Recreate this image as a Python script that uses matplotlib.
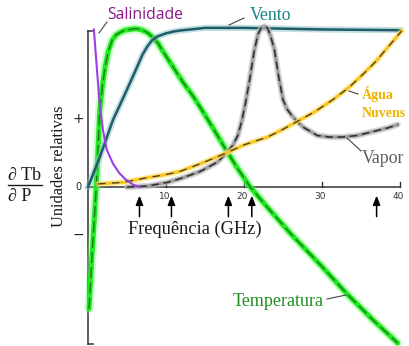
import matplotlib
matplotlib.use("Agg")
import matplotlib.pyplot as plt
from matplotlib.lines import Line2D

# ---------------- data (frequency in GHz, relative units) ----------------
sal_x = [0.75, 1.0, 1.2, 1.45, 1.7, 1.9, 2.4, 3.2, 4.0, 4.8, 5.8, 6.6]
sal_y = [1.01, 0.85, 0.72, 0.56, 0.45, 0.37, 0.24, 0.15, 0.09, 0.05, 0.015, 0.0]

vento_x = [0, 1.5, 3.2, 4.5, 5.5, 6.3, 7.0, 7.6, 8.2, 8.9, 10.0, 11.0, 11.8, 13.5, 15, 20, 30, 40]
vento_y = [0, 0.19, 0.43, 0.57, 0.68, 0.77, 0.85, 0.90, 0.94, 0.965, 0.985, 0.997, 1.003,
           1.012, 1.02, 1.02, 1.01, 1.005]

temp_x = [0.13, 0.5, 0.9, 1.15, 1.5, 1.85, 2.2, 2.6, 3.1, 3.6, 4.1, 4.7, 5.4, 6.1, 6.7,
          7.2, 7.6, 8.3, 9.0, 9.6, 10.9, 12.2, 13.5, 14.4, 16.0, 17.8, 19.3, 20.8,
          23, 26, 30, 33.3, 36.5, 39.7]
temp_y = [-0.78, -0.45, -0.13, 0.09, 0.49, 0.65, 0.77, 0.87, 0.94, 0.975, 0.99, 1.005,
          1.01, 1.015, 1.01, 1.0, 0.99, 0.96, 0.92, 0.87, 0.77, 0.67, 0.58, 0.51, 0.38,
          0.23, 0.11, 0.0, -0.13, -0.30, -0.51, -0.69, -0.85, -1.0]

vapor_x = [5.0, 7.6, 10.2, 12.2, 14.4, 16.6, 17.8, 18.6, 19.2, 19.7, 20.2, 20.8, 21.3,
           21.8, 22.2, 22.6, 23.0, 23.4, 23.9, 24.4, 25.0, 25.5, 26.1, 26.8, 27.7,
           29.4, 31.0, 32.5, 34.5, 36.5, 38.5, 39.7]
vapor_y = [0.0, 0.006, 0.03, 0.06, 0.10, 0.16, 0.22, 0.27, 0.33, 0.42, 0.54, 0.71, 0.87,
           0.98, 1.02, 1.03, 1.02, 0.97, 0.88, 0.72, 0.56, 0.50, 0.46, 0.42, 0.38,
           0.33, 0.32, 0.32, 0.33, 0.355, 0.38, 0.40]

agua_x = [1.3, 4.5, 7.6, 10, 11.8, 14.7, 17.8, 20, 23.0, 25, 26.8, 29, 31.4, 33.5,
          35.4, 37, 38.0, 39.2, 40.2]
agua_y = [0.02, 0.03, 0.06, 0.08, 0.10, 0.155, 0.22, 0.27, 0.32, 0.37, 0.42, 0.48,
          0.56, 0.64, 0.73, 0.81, 0.87, 0.94, 1.0]

freq_arrows = [6.6, 10.7, 18.0, 21.0, 37.0]
x_ticks = [10, 20, 30, 40]
x_tick_labels = ["10", "20", "30", "40"]

# ---------------- figure ----------------
W, H = 409, 346
fig = plt.figure(figsize=(W / 100, H / 100), dpi=100)
fig.patch.set_facecolor("white")

YTOP, YBOT = 1.0, -1.006
ax = fig.add_axes([88 / W, (H - 344) / H, (400 - 88) / W, (344 - 31) / H])
ax.set_xlim(0, 40)
ax.set_ylim(YBOT, YTOP)
ax.axis("off")


def P(x, y):
    return (x / W, 1 - y / H)


SERIF = ["Liberation Serif", "DejaVu Serif"]

# axes lines
ax.plot([0, 0], [YBOT, YTOP], color="#333333", lw=1.1, clip_on=False)
ax.plot([0, 0.7], [YTOP, YTOP], color="#333333", lw=1.1, clip_on=False)
ax.plot([0, 0.7], [YBOT, YBOT], color="#333333", lw=1.1, clip_on=False)
ax.plot([0, 40], [0, 0], color="#333333", lw=1.1, clip_on=False)
for t in x_ticks:
    ax.plot([t, t], [0, 0.035], color="#333333", lw=1.0, clip_on=False)
for t, lab in zip(x_ticks, x_tick_labels):
    ax.text(t - 0.2, -0.058, lab, ha="center", va="center", fontsize=6.5,
            color="#333333", family="DejaVu Sans")

# frequency arrows
for f in freq_arrows:
    ax.annotate("", xy=(f, -0.055), xytext=(f, -0.19),
                arrowprops=dict(arrowstyle="-|>,head_length=0.55,head_width=0.22",
                                color="black", lw=1.1, shrinkA=0, shrinkB=0),
                annotation_clip=False)

# Temperatura (green, glow)
ax.plot(temp_x, temp_y, color="#66ff66", lw=6.5, alpha=0.35, solid_capstyle="round",
        clip_on=False, zorder=2)
ax.plot(temp_x, temp_y, color="#22ea22", lw=3.6, solid_capstyle="round", clip_on=False, zorder=2)
ax.plot(temp_x, temp_y, color="#1b7a1b", lw=1.0, dashes=(8, 3), clip_on=False, zorder=2)

# Vento (teal)
ax.plot(vento_x, vento_y, color="#8cbfc5", lw=4.5, alpha=0.5, clip_on=False, zorder=3)
ax.plot(vento_x, vento_y, color="#1d5d68", lw=1.8, clip_on=False, zorder=3)

# Vapor (gray)
ax.plot(vapor_x, vapor_y, color="#c0c0c0", lw=4.5, alpha=0.6, solid_capstyle="round",
        clip_on=False, zorder=4)
ax.plot(vapor_x, vapor_y, color="#a0a0a0", lw=2.4, clip_on=False, zorder=4)
ax.plot(vapor_x, vapor_y, color="#2d2d2d", lw=1.1, dashes=(5, 3), clip_on=False, zorder=4)

# Agua / Nuvens (yellow)
ax.plot(agua_x, agua_y, color="#ffdc60", lw=4.0, alpha=0.55, clip_on=False, zorder=5)
ax.plot(agua_x, agua_y, color="#f7c424", lw=2.1, clip_on=False, zorder=5)
ax.plot(agua_x, agua_y, color="#3c3c3c", lw=0.9, dashes=(6, 5), clip_on=False, zorder=5)

# Salinidade (purple)
ax.plot(sal_x, sal_y, color="#9a3fe4", lw=1.5, clip_on=False, zorder=6)

# ---------------- labels ----------------
fig.text(*P(107, 19), "Salinidade", fontsize=11.3, color="#8b1a8b",
         family=["Open Sans", "DejaVu Sans"], va="baseline", ha="left")
fig.text(*P(250, 20), "Vento", fontsize=12.8, color="#1a8585",
         family=SERIF, va="baseline", ha="left")
fig.text(*P(362, 99), "Água", fontsize=10, color="#f0b400", fontweight="bold",
         family=SERIF, va="baseline", ha="left")
fig.text(*P(362, 117), "Nuvens", fontsize=10, color="#f0b400", fontweight="bold",
         family=SERIF, va="baseline", ha="left")
fig.text(*P(362, 163), "Vapor", fontsize=12.8, color="#5e5e5e",
         family=SERIF, va="baseline", ha="left")
fig.text(*P(233, 306), "Temperatura", fontsize=13, color="#1e8f1e",
         family=SERIF, va="baseline", ha="left")
fig.text(*P(128, 234), "Frequência (GHz)", fontsize=13.2, color="#1a1a1a",
         family=SERIF, va="baseline", ha="left")
fig.text(*P(59, 166), "Unidades relativas", fontsize=11.8, color="#1a1a1a",
         family=SERIF, rotation=90, va="center", ha="center")

# fraction dTb/dP
fig.text(*P(8, 180), "∂ Tb", fontsize=13, color="#1a1a1a", family=SERIF,
         va="baseline", ha="left")
fig.text(*P(8, 201), "∂ P", fontsize=13, color="#1a1a1a", family=SERIF,
         va="baseline", ha="left")
fig.add_artist(Line2D([8 / W, 42 / W], [1 - 185 / H, 1 - 185 / H], color="#1a1a1a",
                      lw=1.0, transform=fig.transFigure))

# y symbols
fig.text(*P(78, 119), "+", fontsize=10, color="#222222", family="DejaVu Sans",
         va="center", ha="center")
fig.text(*P(78, 187), "0", fontsize=7, color="#222222", family="DejaVu Sans",
         va="center", ha="center")
fig.text(*P(78, 235), "−", fontsize=10, color="#222222", family="DejaVu Sans",
         va="center", ha="center")

# leader lines
leaders = [((99, 33), (107, 22)), ((229, 25), (244, 18)), ((349, 91), (358, 94)),
           ((347, 138), (361, 151)), ((327, 299), (346, 295))]
for (x1, y1), (x2, y2) in leaders:
    fig.add_artist(Line2D([x1 / W, x2 / W], [1 - y1 / H, 1 - y2 / H], color="#444444",
                          lw=0.8, transform=fig.transFigure))

fig.savefig("out.png", dpi=100, facecolor="white")
